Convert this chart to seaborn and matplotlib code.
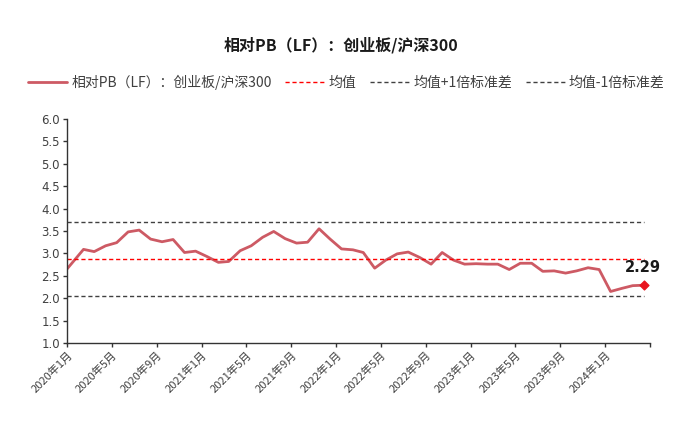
import matplotlib
matplotlib.use("Agg")
import matplotlib.pyplot as plt
import seaborn as sns
import pandas as pd
import numpy as np

# ---------------- data ----------------
dates = ["2020-01-01"] + [d.strftime("%Y-%m-%d") for d in pd.date_range("2020-02-01", "2024-04-01", freq="MS") + pd.Timedelta(days=14)]
values = [2.65, 3.09, 3.04, 3.17, 3.24, 3.48, 3.52, 3.32, 3.26, 3.31,
          3.02, 3.05, 2.93, 2.80, 2.82, 3.06, 3.17, 3.36, 3.49, 3.33,
          3.23, 3.25, 3.55, 3.32, 3.10, 3.08, 3.02, 2.67, 2.85, 2.99,
          3.03, 2.91, 2.76, 3.02, 2.85, 2.76, 2.77, 2.76, 2.76, 2.64,
          2.78, 2.78, 2.60, 2.61, 2.56, 2.61, 2.68, 2.64, 2.15, 2.22,
          2.28, 2.29]
mean_val = 2.87
upper_val = 3.69
lower_val = 2.05
last_label = "2.29"

series_name = "相对PB（LF）：创业板/沪深300"
mean_name = "均值"
upper_name = "均值+1倍标准差"
lower_name = "均值-1倍标准差"
title = "相对PB（LF）：创业板/沪深300"

tick_dates = ["2020-01-01", "2020-05-01", "2020-09-01", "2021-01-01", "2021-05-01",
              "2021-09-01", "2022-01-01", "2022-05-01", "2022-09-01", "2023-01-01",
              "2023-05-01", "2023-09-01", "2024-01-01", "2024-05-01"]
tick_labels = ["2020年1月", "2020年5月", "2020年9月", "2021年1月", "2021年5月",
               "2021年9月", "2022年1月", "2022年5月", "2022年9月", "2023年1月",
               "2023年5月", "2023年9月", "2024年1月", ""]
y_ticks = [1.0, 1.5, 2.0, 2.5, 3.0, 3.5, 4.0, 4.5, 5.0, 5.5, 6.0]

# ---------------- plot ----------------
sns.set_theme(style="white")
plt.rcParams["font.family"] = ["Noto Sans CJK SC", "DejaVu Sans"]
plt.rcParams["axes.unicode_minus"] = False

df = pd.DataFrame({"date": pd.to_datetime(dates), "value": values})
df["mean"] = mean_val
df["upper"] = upper_val
df["lower"] = lower_val

fig = plt.figure(figsize=(6.83, 4.21), dpi=100)
ax = fig.add_axes([0.098, 0.1853, 0.8537, 0.532])

line_color = "#CD5A64"
sns.lineplot(data=df, x="date", y="value", ax=ax, color=line_color, lw=2.0, label=series_name)
sns.lineplot(data=df, x="date", y="mean", ax=ax, color="#FF0000", lw=1.0, ls=(0, (3, 2)), label=mean_name)
sns.lineplot(data=df, x="date", y="upper", ax=ax, color="#404040", lw=1.0, ls=(0, (3, 2)), label=upper_name)
sns.lineplot(data=df, x="date", y="lower", ax=ax, color="#404040", lw=1.0, ls=(0, (3, 2)), label=lower_name)

last = df.iloc[-1]
ax.scatter([last["date"]], [last["value"]], marker="D", s=20, color="#E8141E", zorder=5)
ax.annotate(last_label, xy=(last["date"], last["value"]), xytext=(-1, 13),
            textcoords="offset points", ha="center", va="center",
            fontsize=10.5, fontweight="bold", color="#1a1a1a", family="DejaVu Sans")

ax.set_xlim(pd.Timestamp(tick_dates[0]), pd.Timestamp(tick_dates[-1]))
ax.set_ylim(1.0, 6.0)
ax.set_yticks(y_ticks)
ax.set_yticklabels([f"{v:.1f}" for v in y_ticks], fontsize=8.5, color="#404040", family="DejaVu Sans")
ax.set_xticks(pd.to_datetime(tick_dates))
ax.set_xticklabels(tick_labels, rotation=45, ha="right", rotation_mode="anchor", fontsize=8, color="#404040")
ax.set_xlabel("")
ax.set_ylabel("")

for s in ["top", "right"]:
    ax.spines[s].set_visible(False)
for s in ["left", "bottom"]:
    ax.spines[s].set_color("#333333")
    ax.spines[s].set_linewidth(1.0)
ax.tick_params(axis="both", which="both", direction="out", length=3, width=1, color="#333333", pad=2, left=True, bottom=True)
ax.grid(False)

handles, labels = ax.get_legend_handles_labels()
ax.get_legend().remove()
fig.legend(handles, labels, loc="center left", bbox_to_anchor=(0.033, 0.805), ncol=4, frameon=False,
           fontsize=10, handlelength=2.8, handletextpad=0.3, columnspacing=1.0,
           labelcolor="#404040", borderaxespad=0)

fig.text(0.5, 0.893, title, ha="center", va="center", fontsize=11.5, fontweight="bold", color="#1a1a1a")

fig.savefig("out.png", dpi=100)
